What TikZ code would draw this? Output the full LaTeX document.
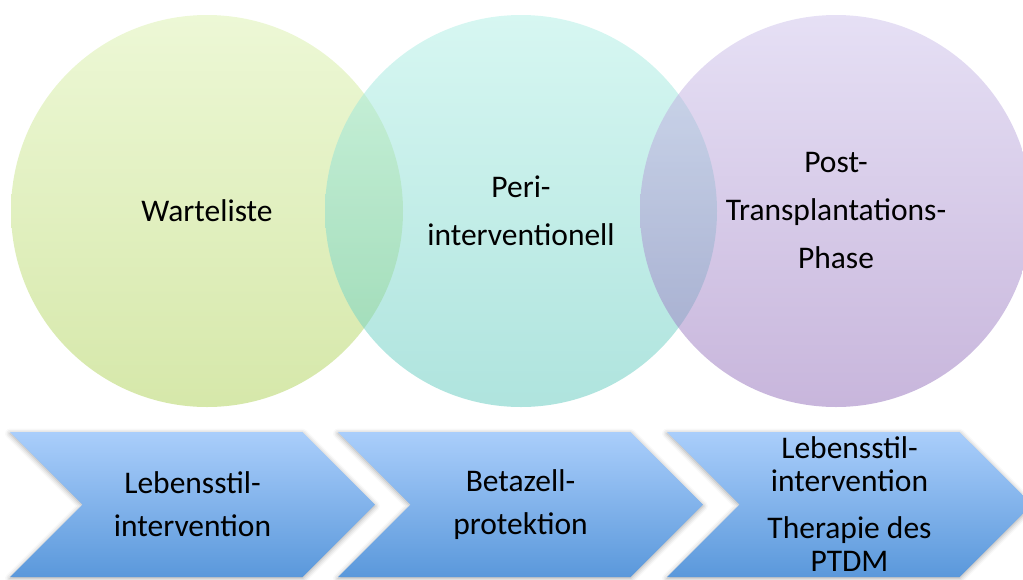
\documentclass[tikz,border=0pt]{standalone}
\usepackage{fontspec}
\setmainfont{Carlito}
\usepackage{xcolor}
\usepackage{tikz}
\usetikzlibrary{positioning,shapes.symbols,shadows.blur}

% base colours, laid over white at half opacity
\definecolor{waitTop}{RGB}{219,241,173}
\definecolor{waitBot}{RGB}{173,209,85}
\definecolor{periTop}{RGB}{175,239,229}
\definecolor{periBot}{RGB}{95,201,189}
\definecolor{postTop}{RGB}{205,193,235}
\definecolor{postBot}{RGB}{145,109,185}
\definecolor{stageTop}{RGB}{170,206,251}
\definecolor{stageBot}{RGB}{90,152,219}

\begin{document}
\begin{tikzpicture}[x=1pt, y=-1pt,
  phase/.style={
    circle, minimum size=392pt, inner sep=0pt,
    fill opacity=0.5, text opacity=1,
    align=center, font=\fontsize{31.5}{48}\selectfont
  },
  stage/.style={
    signal, signal to=east, signal from=west,
    signal pointer angle=90,
    minimum width=365pt, minimum height=145pt, inner sep=0pt,
    top color=stageTop, bottom color=stageBot,
    blur shadow={shadow xshift=0pt, shadow yshift=-1.5pt,
      shadow blur radius=5pt, shadow opacity=35},
    align=center, font=\fontsize{31.5}{43}\selectfont
  }]

\useasboundingbox (0,0) rectangle (1023,579);

% Phases — overlapping circles
\node[phase, top color=waitTop, bottom color=waitBot] (wait) at (207,211)
  {Warteliste};
\node[phase, top color=periTop, bottom color=periBot] (peri) at (521,211)
  {Peri-\\interventionell};
\node[phase, top color=postTop, bottom color=postBot] (post) at (836,211)
  {Post-\\Transplantations-\\Phase};

% Measures per phase — chevrons
\node[stage] (life) at (192.5,504.5)
  {Lebensstil-\\intervention};
\node[stage] (beta) at (520.5,504.5)
  {Betazell-\\protektion};
\node[stage, font=\fontsize{31.5}{33}\selectfont] (ptdm) at (849.5,504.5)
  {Lebensstil-\\intervention\\[14pt]Therapie des\\PTDM};

\end{tikzpicture}
\end{document}
